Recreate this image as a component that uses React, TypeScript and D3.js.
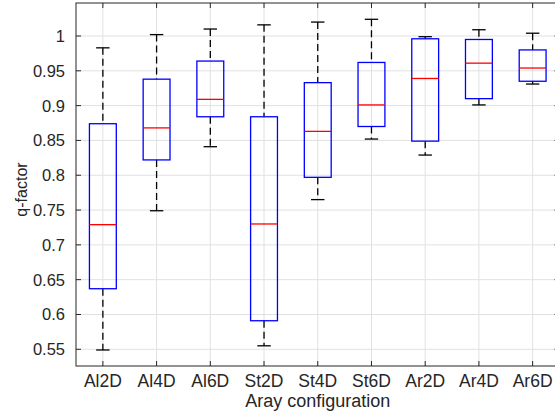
import React from "react";
import * as d3 from "d3";

const categories = ["Al2D", "Al4D", "Al6D", "St2D", "St4D", "St6D", "Ar2D", "Ar4D", "Ar6D"];
const lowerWhisker = [0.549, 0.749, 0.841, 0.555, 0.765, 0.852, 0.829, 0.901, 0.931];
const q1 = [0.637, 0.822, 0.884, 0.591, 0.797, 0.870, 0.849, 0.910, 0.935];
const medians = [0.729, 0.868, 0.909, 0.730, 0.863, 0.901, 0.939, 0.961, 0.954];
const q3 = [0.874, 0.938, 0.964, 0.884, 0.933, 0.962, 0.996, 0.995, 0.980];
const upperWhisker = [0.983, 1.002, 1.010, 1.016, 1.020, 1.024, 0.999, 1.009, 1.004];
const yTicks = [0.55, 0.6, 0.65, 0.7, 0.75, 0.8, 0.85, 0.9, 0.95, 1];
const yLimits = [0.526, 1.0474];
const xLabel = "Aray configuration";
const yLabel = "q-factor";

const W = 555;
const H = 416;
const L = 76;
const R = 559.5;
const T = 3;
const B = 366;
const FONT = "'Liberation Sans', Arial, Helvetica, sans-serif";

export default function App() {
  const x = d3.scaleLinear().domain([0.5, categories.length + 0.5]).range([L, R]);
  const y = d3.scaleLinear().domain(yLimits).range([B, T]);
  const step = x(2) - x(1);
  const boxHalf = step * 0.25;
  const capHalf = step * 0.125;
  const axisColor = "#262626";
  const gridColor = "#e1e1e1";
  const tickLen = 5;

  return (
    <svg width={W} height={H} style={{ position: "absolute", left: 0, top: 0 }}>
      <rect x={0} y={0} width={W} height={H} fill="#fff" />
      {yTicks.map((t) => (
        <line key={"gy" + t} x1={L} x2={R} y1={y(t)} y2={y(t)} stroke={gridColor} strokeWidth={1} />
      ))}
      {categories.map((c, i) => (
        <line key={"gx" + c} x1={x(i + 1)} x2={x(i + 1)} y1={T} y2={B} stroke={gridColor} strokeWidth={1} />
      ))}
      {categories.map((c, i) => {
        const cx = x(i + 1);
        return (
          <g key={"b" + c}>
            <line x1={cx} x2={cx} y1={y(upperWhisker[i])} y2={y(q3[i])} stroke="#000" strokeWidth={1.3} strokeDasharray="7,4" />
            <line x1={cx} x2={cx} y1={y(q1[i])} y2={y(lowerWhisker[i])} stroke="#000" strokeWidth={1.3} strokeDasharray="7,4" />
            <line x1={cx - capHalf} x2={cx + capHalf} y1={y(upperWhisker[i])} y2={y(upperWhisker[i])} stroke="#000" strokeWidth={1.3} />
            <line x1={cx - capHalf} x2={cx + capHalf} y1={y(lowerWhisker[i])} y2={y(lowerWhisker[i])} stroke="#000" strokeWidth={1.3} />
            <rect x={cx - boxHalf} y={y(q3[i])} width={boxHalf * 2} height={y(q1[i]) - y(q3[i])} fill="none" stroke="#0000ff" strokeWidth={1.3} />
            <line x1={cx - boxHalf} x2={cx + boxHalf} y1={y(medians[i])} y2={y(medians[i])} stroke="#ff0000" strokeWidth={1.3} />
          </g>
        );
      })}
      <rect x={L} y={T} width={R - L} height={B - T} fill="none" stroke={axisColor} strokeWidth={1} />
      {yTicks.map((t) => (
        <g key={"ty" + t}>
          <line x1={L} x2={L + tickLen} y1={y(t)} y2={y(t)} stroke={axisColor} strokeWidth={1} />
          <line x1={R} x2={R - tickLen} y1={y(t)} y2={y(t)} stroke={axisColor} strokeWidth={1} />
          <text x={L - 11} y={y(t)} dy="0.36em" textAnchor="end" fontFamily={FONT} fontSize={16.5} fill="#262626">
            {d3.format("~g")(t)}
          </text>
        </g>
      ))}
      {categories.map((c, i) => (
        <g key={"tx" + c}>
          <line x1={x(i + 1)} x2={x(i + 1)} y1={B} y2={B - tickLen} stroke={axisColor} strokeWidth={1} />
          <line x1={x(i + 1)} x2={x(i + 1)} y1={T} y2={T + tickLen} stroke={axisColor} strokeWidth={1} />
          <text x={x(i + 1)} y={B + 21} textAnchor="middle" fontFamily={FONT} fontSize={17.5} fill="#262626">
            {c}
          </text>
        </g>
      ))}
      <text x={(L + R) / 2} y={B + 41} textAnchor="middle" fontFamily={FONT} fontSize={18} fill="#262626">
        {xLabel}
      </text>
      <text transform={`translate(27,${(T + B) / 2 + 5}) rotate(-90)`} textAnchor="middle" fontFamily={FONT} fontSize={16} fill="#262626">
        {yLabel}
      </text>
    </svg>
  );
}
